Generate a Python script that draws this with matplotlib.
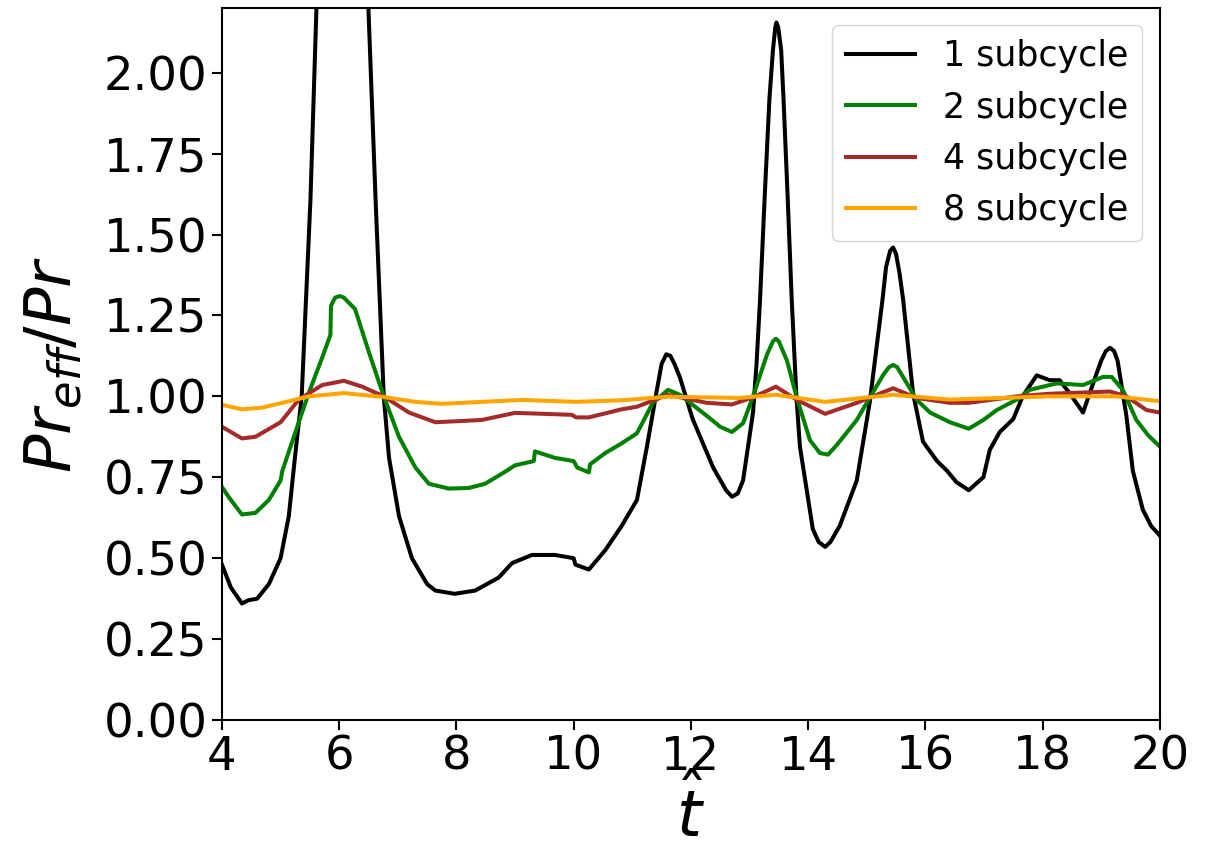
import matplotlib
matplotlib.use("Agg")
import matplotlib.pyplot as plt

# 1 subcycle
t1 = [4.0, 4.15, 4.34, 4.45, 4.6, 4.8, 5.0, 5.14, 5.25, 5.36, 5.51, 5.61, 6.03, 6.5, 6.62, 6.76,
      6.85, 7.02, 7.24, 7.5, 7.64, 7.97, 8.32, 8.72, 8.95, 9.29, 9.68, 10.0, 10.03, 10.26,
      10.54, 10.82, 11.08, 11.25, 11.42, 11.5, 11.58, 11.65, 11.72, 11.81, 12.03, 12.38, 12.6,
      12.7, 12.8, 12.89, 13.06, 13.12, 13.18, 13.26, 13.34, 13.4, 13.44, 13.46, 13.49, 13.54,
      13.58, 13.65, 13.72, 13.8, 13.86, 14.08, 14.18, 14.29, 14.38, 14.54, 14.83, 15.05, 15.27,
      15.33, 15.4, 15.45, 15.5, 15.56, 15.62, 15.79, 15.96, 16.2, 16.37, 16.53, 16.74, 16.99,
      17.1, 17.27, 17.5, 17.66, 17.9, 18.12, 18.29, 18.46, 18.69, 18.92, 19.0, 19.08, 19.15,
      19.22, 19.28, 19.43, 19.54, 19.71, 19.85, 20.0]
pr1 = [0.48, 0.41, 0.36, 0.37, 0.375, 0.42, 0.50, 0.63, 0.82, 1.0, 1.61, 2.19, 4.5, 2.19, 1.61, 1.0,
       0.81, 0.63, 0.50, 0.42, 0.40, 0.39, 0.40, 0.44, 0.485, 0.51, 0.51, 0.50, 0.48, 0.465,
       0.525, 0.60, 0.68, 0.845, 1.02, 1.10, 1.13, 1.125, 1.10, 1.06, 0.93, 0.78, 0.71,
       0.69, 0.70, 0.74, 0.95, 1.10, 1.30, 1.62, 1.92, 2.07, 2.14, 2.155, 2.14, 2.07,
       1.92, 1.62, 1.30, 1.0, 0.845, 0.59, 0.55, 0.535, 0.55, 0.60, 0.74, 0.98, 1.30,
       1.40, 1.45, 1.46, 1.44, 1.38, 1.30, 1.01, 0.86, 0.80, 0.77, 0.735, 0.71, 0.75,
       0.835, 0.89, 0.93, 1.0, 1.065, 1.05, 1.05, 1.01, 0.95, 1.07, 1.11, 1.14, 1.15,
       1.14, 1.11, 0.94, 0.77, 0.65, 0.60, 0.57]

# 2 subcycle
t2 = [4.0, 4.11, 4.34, 4.57, 4.8, 5.0, 5.03, 5.31, 5.48, 5.71, 5.85, 5.86, 5.93, 6.01, 6.08, 6.16,
      6.27, 6.5, 6.76, 7.02, 7.3, 7.53, 7.87, 8.21, 8.49, 8.83, 9.0, 9.32, 9.34, 9.68, 10.0, 10.06,
      10.26, 10.28, 10.54, 10.82, 11.08, 11.35, 11.61, 11.81, 12.27, 12.5, 12.7, 12.89, 13.06,
      13.3, 13.4, 13.45, 13.5, 13.64, 13.8, 14.03, 14.2, 14.34, 14.49, 14.83, 15.05, 15.28, 15.38,
      15.45, 15.52, 15.62, 15.85, 16.08, 16.42, 16.74, 16.99, 17.22, 17.56, 17.78, 18.24, 18.69,
      19.03, 19.18, 19.37, 19.6, 19.8, 20.0]
pr2 = [0.72, 0.69, 0.635, 0.64, 0.68, 0.74, 0.77, 0.92, 1.01, 1.12, 1.19, 1.28, 1.305, 1.31, 1.305, 1.29,
       1.27, 1.14, 1.0, 0.875, 0.78, 0.73, 0.715, 0.717, 0.73, 0.767, 0.787, 0.80, 0.83, 0.81, 0.80, 0.78,
       0.765, 0.79, 0.825, 0.855, 0.886, 0.98, 1.02, 1.005, 0.94, 0.906, 0.89, 0.917, 1.0,
       1.13, 1.17, 1.178, 1.17, 1.11, 1.0, 0.865, 0.825, 0.82, 0.85, 0.927, 0.995, 1.066, 1.09,
       1.097, 1.09, 1.06, 0.99, 0.95, 0.92, 0.90, 0.927, 0.958, 0.99, 1.02, 1.04, 1.035,
       1.06, 1.06, 1.02, 0.927, 0.88, 0.845]

# 4 subcycle
t4 = [4.0, 4.34, 4.57, 5.0, 5.31, 5.71, 6.08, 6.39, 6.76, 7.19, 7.64, 8.43, 9.0, 9.97, 10.04,
      10.26, 10.82, 11.08, 11.61, 12.27, 12.7, 13.06, 13.45, 13.8, 14.29, 14.83, 15.45, 15.85,
      16.42, 16.74, 17.56, 18.12, 19.15, 19.43, 19.77, 20.0]
pr4 = [0.906, 0.87, 0.875, 0.92, 0.99, 1.035, 1.048, 1.03, 1.0, 0.95, 0.92, 0.927, 0.949, 0.943, 0.935,
       0.935, 0.96, 0.968, 1.005, 0.98, 0.975, 0.997, 1.03, 0.99, 0.946, 0.98, 1.025, 0.995,
       0.98, 0.98, 1.0, 1.008, 1.015, 1.0, 0.958, 0.95]

# 8 subcycle
t8 = [4.0, 4.34, 4.68, 5.03, 5.48, 6.08, 6.76, 7.3, 7.75, 9.12, 10.04, 10.82, 11.61, 12.83,
      13.45, 14.29, 15.45, 16.42, 18.12, 19.26, 20.0]
pr8 = [0.974, 0.96, 0.965, 0.98, 1.0, 1.01, 0.998, 0.983, 0.977, 0.989, 0.983, 0.988, 0.999, 0.995,
       1.005, 0.983, 1.005, 0.99, 1.0, 1.0, 0.985]

series = [(t1, pr1, "1 subcycle", "k"),
          (t2, pr2, "2 subcycle", "g"),
          (t4, pr4, "4 subcycle", "brown"),
          (t8, pr8, "8 subcycle", "orange")]

fig = plt.figure(figsize=(12.17, 8.65), dpi=100)
ax = fig.add_axes([0.1824, 0.1676, 0.953 - 0.1824, 0.9908 - 0.1676])

for t, v, lab, col in series:
    ax.plot(t, v, color=col, lw=2.9, label=lab)

ax.set_xlim(4, 20)
ax.set_ylim(0, 2.2)
ax.set_xticks(range(4, 21, 2))
ax.set_yticks([i * 0.25 for i in range(9)])
ax.set_yticklabels([f"{i * 0.25:.2f}" for i in range(9)])
ax.tick_params(labelsize=33.5, length=7, width=1.5)
for s in ax.spines.values():
    s.set_linewidth(1.5)

ax.set_xlabel(r"$\hat{t}$", fontsize=46, labelpad=-2)
ax.set_ylabel(r"$Pr_{eff}/Pr$", fontsize=46, labelpad=14)
ax.legend(loc="upper right", fontsize=25)

fig.savefig("out.png", dpi=100)
